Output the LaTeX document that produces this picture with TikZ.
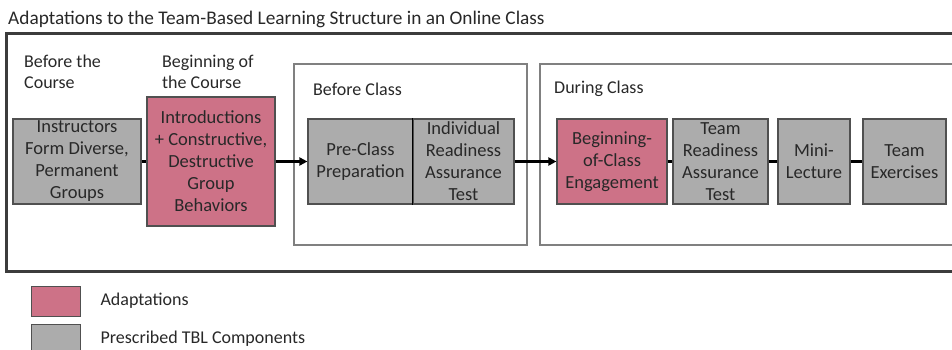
\documentclass[tikz,border=0pt]{standalone}
\usepackage{fontspec}
\setmainfont{Carlito}
\usetikzlibrary{arrows.meta}
\definecolor{adapt}{RGB}{205,114,135}
\definecolor{prescr}{RGB}{172,172,172}
\definecolor{boxedge}{RGB}{80,80,80}
\definecolor{groupedge}{RGB}{128,128,128}
\definecolor{frameedge}{RGB}{60,60,60}
\definecolor{titlecol}{RGB}{40,40,40}
\tikzset{
  stepbox/.style={draw=boxedge, line width=1.2pt, minimum height=85pt,
    inner sep=0pt, align=center, text=titlecol,
    font=\fontsize{18.5}{22}\selectfont},
  adaptbox/.style={stepbox, fill=adapt},
  tblbox/.style={stepbox, fill=prescr},
  groupbox/.style={draw=groupedge, line width=2pt},
  phase/.style={anchor=north west, align=left, text=titlecol, inner sep=0pt,
    font=\fontsize{18}{21}\selectfont},
  keybox/.style={draw=boxedge, line width=1pt, minimum width=49pt,
    minimum height=30pt, inner sep=0pt},
  keytext/.style={anchor=west, text=titlecol, font=\fontsize{18}{21}\selectfont},
  flow/.style={line width=2.4pt, -{Triangle[length=8pt,width=8pt]}},
  link/.style={line width=3pt}
}
\begin{document}
\begin{tikzpicture}[x=1pt,y=-1pt]
\useasboundingbox (0,0) rectangle (952,350);

% title
\node[anchor=west, text=titlecol, inner sep=0pt, font=\fontsize{19.3}{22}\selectfont] (title) at (8,19)
  {Adaptations to the Team-Based Learning Structure in an Online Class};

% outer frame and phase groups
\draw[draw=frameedge, line width=3pt] (6,34) rectangle (970,271);
\draw[groupbox] (294,64) rectangle (527,245);
\draw[groupbox] (540,64) rectangle (970,245);

% phase labels
\node[phase] (p1) at (24,55) {Before the\\Course};
\node[phase] (p2) at (162,55) {Beginning of\\the Course};
\node[phase] (p3) at (313,83) {Before Class};
\node[phase] (p4) at (554,81) {During Class};

% steps
\node[tblbox, minimum width=128pt] (form) at (77,161.5)
  {Instructors\\Form Diverse,\\Permanent\\Groups};
\node[adaptbox, minimum width=128pt, minimum height=129pt] (intro) at (211,161.5)
  {Introductions\\+ Constructive,\\Destructive\\Group\\Behaviors};
\node[tblbox, minimum width=105pt] (prep) at (360.5,161.5)
  {Pre-Class\\Preparation};
\node[tblbox, minimum width=101pt] (irat) at (463.5,161.5)
  {Individual\\Readiness\\Assurance\\Test};
\draw[line width=1.6pt] (irat.north west) -- (irat.south west);
\node[adaptbox, minimum width=110pt] (boc) at (612,161.5)
  {Beginning-\\of-Class\\Engagement};
\node[tblbox, minimum width=95pt] (trat) at (720.5,161.5)
  {Team\\Readiness\\Assurance\\Test};
\node[tblbox, minimum width=72pt] (mini) at (814,161.5)
  {Mini-\\Lecture};
\node[tblbox, minimum width=83pt] (team) at (904.5,161.5)
  {Team\\Exercises};

% connectors
\draw[link] (form.east) -- (intro.west |- form.east);
\draw[flow] (intro.east |- prep.west) -- (prep.west);
\draw[flow] (irat.east) -- (boc.west);
\draw[link] (boc.east) -- (trat.west);
\draw[link] (trat.east) -- (mini.west);
\draw[link] (mini.east) -- (team.west);

% legend
\node[keybox, fill=adapt] (keyA) at (55.5,301) {};
\node[keybox, fill=prescr] (keyP) at (55.5,339) {};
\node[keytext] (labA) at (97,301) {Adaptations};
\node[keytext] (labP) at (97,339) {Prescribed TBL Components};
\end{tikzpicture}
\end{document}
